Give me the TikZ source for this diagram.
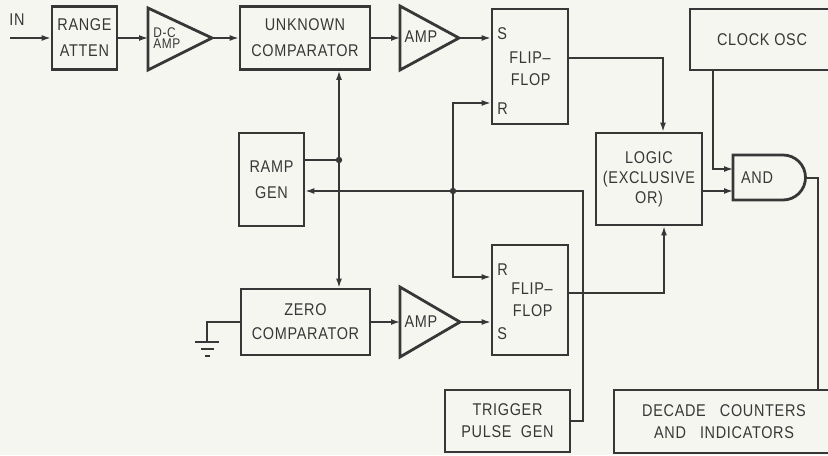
\documentclass[tikz,border=0pt]{standalone}
\usepackage{fontspec}
\setmainfont[FakeStretch=0.85, LetterSpace=4]{Liberation Sans}
\usetikzlibrary{arrows.meta}
\definecolor{ink}{RGB}{55,55,55}
\definecolor{paper}{RGB}{246,246,241}

\begin{document}
\begin{tikzpicture}[
    x=0.5pt, y=-0.5pt,
    blk/.style={rectangle, draw=ink, line width=1.4pt, inner sep=0pt, align=center, text=ink, font=\fontsize{8.5}{13}\selectfont},
    lbl/.style={inner sep=0pt, text=ink, font=\fontsize{8.5}{11}\selectfont},
    wire/.style={draw=ink, line width=0.7pt},
    arr/.style={wire, -{Latex[length=4.5pt,width=3pt]}},
    tri/.style={draw=ink, line width=1.4pt, line join=miter}
]
\useasboundingbox (0,0) rectangle (828,455);
\fill[paper] (0,0) rectangle (828,455);
\clip (0,0) rectangle (828,455);

% blocks
\node[blk, minimum width=32.5pt, minimum height=31.5pt] (atten) at (84.5,38) {RANGE\\ATTEN};
\node[blk, minimum width=65pt, minimum height=31.5pt] (unk) at (305,38) {UNKNOWN\\COMPARATOR};
\node[blk, minimum width=38pt, minimum height=57.5pt] (ff1) at (530,66.5) {};
\node[blk, minimum width=72pt, minimum height=30.5pt] (clock) at (762,39.5) {CLOCK OSC};
\node[blk, minimum width=32.5pt, minimum height=46.5pt] (ramp) at (271.5,179.5) {RAMP\\GEN};
\node[blk, minimum width=53pt, minimum height=46pt, font=\fontsize{8.5}{10}\selectfont] (logic) at (649,179) {LOGIC\\(EXCLUSIVE\\OR)};
\node[blk, minimum width=64.5pt, minimum height=33pt, font=\fontsize{8.5}{12}\selectfont] (zero) at (305.5,322) {ZERO\\COMPARATOR};
\node[blk, minimum width=38pt, minimum height=55pt] (ff2) at (530,300) {};
\node[blk, minimum width=62.5pt, minimum height=31pt, font=\fontsize{8.5}{11}\selectfont] (trig) at (507.5,421) {TRIGGER\\PULSE\ \ GEN};
\node[blk, minimum width=110pt, minimum height=31.5pt, font=\fontsize{8.5}{11}\selectfont] (decade) at (724,421.5) {DECADE\ \ \ COUNTERS\\AND\ \ \ INDICATORS};

% flip-flop labels
\node[lbl, anchor=west] (ff1s) at (497,34) {S};
\node[lbl, anchor=west] (ff1r) at (497,109) {R};
\node[lbl, anchor=east, align=right] (ff1t) at (551,69) {FLIP--\\FLOP};
\node[lbl, anchor=west] (ff2r) at (497,270) {R};
\node[lbl, anchor=west] (ff2s) at (497,334) {S};
\node[lbl, anchor=east, align=right] (ff2t) at (553,300) {FLIP--\\FLOP};

% amplifiers and gate
\draw[tri] (148,8) -- (212,38) -- (148,70) -- cycle;
\coordinate (dcin) at (148,38);
\coordinate (dcout) at (212,38);
\node[lbl, anchor=north west, align=left, font=\fontsize{7}{5.8}\selectfont] (dclbl) at (153,27) {D-C\\AMP};
\draw[tri] (400,6) -- (459,38) -- (400,70) -- cycle;
\coordinate (a1in) at (400,38);
\coordinate (a1out) at (459,38);
\node[lbl] (a1lbl) at (421,37) {AMP};
\draw[tri] (400,287) -- (460,322) -- (400,357) -- cycle;
\coordinate (a2in) at (400,322);
\coordinate (a2out) at (460,322);
\node[lbl] (a2lbl) at (421,322) {AMP};
\draw[tri] (733,155) -- (783,155) arc[start angle=90, end angle=-90, radius=11.25pt] -- (733,200) -- cycle;
\coordinate (andA) at (733,169);
\coordinate (andB) at (733,191);
\coordinate (andout) at (805,178);
\node[lbl] (andlbl) at (757,178) {AND};

% input
\coordinate (in) at (10,38);
\node[lbl] (inlbl) at (17,20) {IN};

% junctions
\coordinate (j1) at (339,160);
\coordinate (j2) at (453,191);
\coordinate (tcorner) at (583,191);
\coordinate (gnd) at (207,342);

% signal path
\draw[arr] (in) -- (atten);
\draw[arr] (atten) -- (dcin);
\draw[arr] (dcout) -- (unk);
\draw[arr] (unk) -- (a1in);
\draw[arr] (a1out) -- (a1out -| ff1.west);
\draw[arr] ([yshift=4.25pt]ff1.east) -| ([xshift=7pt]logic.north);
\draw[arr] ([yshift=3.5pt]ff2.east) -| ([xshift=7.5pt]logic.south);
\draw[arr] ([yshift=-6pt]logic.east) -- (andB);
\draw[arr] ([xshift=-24.5pt]clock.south) |- (andA);
\draw[wire] (andout) -| ([xshift=47pt]decade.north);

% ramp and comparators
\draw[wire] (ramp.east |- j1) -- (j1);
\draw[wire, {Latex[length=4.5pt,width=3pt]}-{Latex[length=4.5pt,width=3pt]}] (unk.south -| j1) -- (zero.north -| j1);
\fill[ink] (j1) circle (1.6pt);
\draw[arr] (zero) -- (a2in);
\draw[arr] (a2out) -- (a2out -| ff2.west);
\draw[wire] (zero.west) -| (gnd);
\draw[wire] ([xshift=-6pt]gnd) -- ([xshift=6pt]gnd);
\draw[wire] ([xshift=-3pt,yshift=-3.5pt]gnd) -- ([xshift=3.5pt,yshift=-3.5pt]gnd);
\draw[wire] ([xshift=-1pt,yshift=-7pt]gnd) -- ([xshift=1.5pt,yshift=-7pt]gnd);

% trigger
\draw[arr] (trig.east) -| (tcorner) -- (ramp.east |- tcorner);
\fill[ink] (j2) circle (1.6pt);
\draw[arr] (j2) |- ([yshift=-18.25pt]ff1.west);
\draw[arr] (j2) |- ([yshift=11.5pt]ff2.west);

\end{tikzpicture}
\end{document}
